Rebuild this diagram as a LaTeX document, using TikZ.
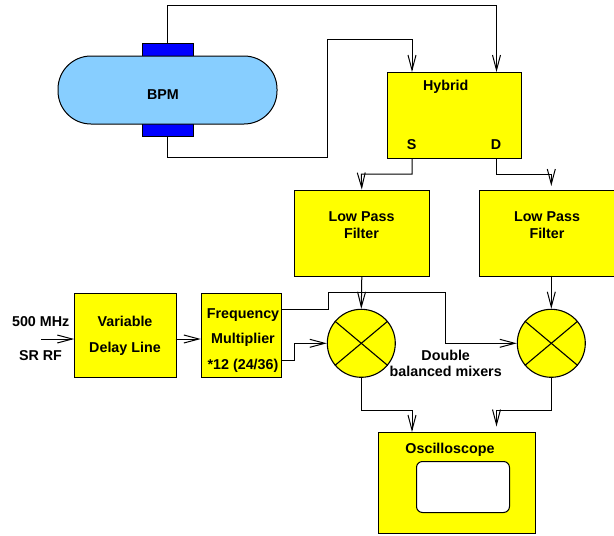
\documentclass[tikz,border=0pt]{standalone}
\usepackage{fontspec}
\setmainfont{Liberation Sans}
\usetikzlibrary{arrows.meta}
\definecolor{pipeblue}{RGB}{135,206,255}
\definecolor{boxyellow}{RGB}{255,255,0}
\definecolor{plateblue}{RGB}{0,0,255}

\tikzset{
    box/.style={rectangle, draw, fill=boxyellow, line width=1pt, inner sep=0pt, anchor=north west},
    plate/.style={rectangle, draw, fill=plateblue, line width=1pt, inner sep=0pt, minimum width=51pt, minimum height=13pt},
    mixer/.style={circle, draw, fill=boxyellow, line width=1.1pt, inner sep=0pt, minimum size=68pt},
    txt/.style={anchor=base, inner sep=0pt, font=\bfseries\fontsize{14.3}{16}\selectfont},
    wire/.style={line width=1.1pt},
    sig/.style={line width=1pt, -{Straight Barb[length=15pt, width=8pt, line width=1pt]}}
}

\begin{document}
\begin{tikzpicture}[x=1pt, y=-1pt]
        \useasboundingbox (0,0) rectangle (614,536);

        % Nodes
        \node[plate] (ptop) at (167.5,49.5) {};
        \node[plate] (pbot) at (167.5,130) {};
        \node[rectangle, draw, fill=pipeblue, line width=1pt, rounded corners=33pt, inner sep=0pt, minimum width=219pt, minimum height=68pt] (bpm) at (167.5,90) {};
        \node[box, minimum width=134.5pt, minimum height=86pt] (hybrid) at (386.5,72) {};
        \node[box, minimum width=135pt, minimum height=86pt] (lpfa) at (293.8,189.5) {};
        \node[box, minimum width=140pt, minimum height=86pt] (lpfb) at (479.3,189.5) {};
        \node[box, minimum width=101.5pt, minimum height=84.5pt] (delay) at (74.2,292.5) {};
        \node[box, minimum width=80.5pt, minimum height=84.5pt] (freq) at (200.8,292.5) {};
        \node[mixer] (mixa) at (361.3,343.3) {};
        \node[mixer] (mixb) at (551.3,343.3) {};
        \node[box, minimum width=156.5pt, minimum height=101pt] (scope) at (378,432) {};
        \node[rectangle, draw, fill=white, line width=1pt, rounded corners=6pt, inner sep=0pt, minimum width=93pt, minimum height=51pt, anchor=north west] (screen) at (416,461) {};

        % Labels
        \node[txt] (bpmtxt) at (163,99) {BPM};
        \node[txt] (hybtxt) at (445.7,90) {Hybrid};
        \node[txt] (stxt) at (411.7,149) {S};
        \node[txt] (dtxt) at (496,149) {D};
        \node[txt] (lpfaone) at (361.5,221) {Low Pass};
        \node[txt] (lpfatwo) at (361.5,238) {Filter};
        \node[txt] (lpfbone) at (547,221) {Low Pass};
        \node[txt] (lpfbtwo) at (547,238) {Filter};
        \node[txt] (rfone) at (40.7,326) {500 MHz};
        \node[txt] (rftwo) at (40.5,360) {SR RF};
        \node[txt] (delayone) at (125,326) {Variable};
        \node[txt] (delaytwo) at (125,352) {Delay Line};
        \node[txt] (freqone) at (243,318) {Frequency};
        \node[txt] (freqtwo) at (243,343) {Multiplier};
        \node[txt] (freqthree) at (243,369) {*12 (24/36)};
        \node[txt] (mixone) at (445.7,360) {Double};
        \node[txt] (mixtwo) at (445.7,376.7) {balanced mixers};
        \node[txt] (scopetxt) at (450,453) {Oscilloscope};

        % Free ends and bends
        \coordinate (hybs) at (412,72);
        \coordinate (hybd) at (496.5,72);
        \coordinate (outs) at (412,158);
        \coordinate (outd) at (496.5,158);
        \coordinate (rfin) at (41,339);
        \coordinate (delayin) at (74.2,339);
        \coordinate (delayout) at (175.7,339);
        \coordinate (freqin) at (200.8,339);
        \coordinate (scopea) at (412,432);
        \coordinate (scopeb) at (496.5,426.5);
        \coordinate (lpfbin) at (551.3,186);
        \coordinate (lpfbout) at (551.3,275.5);
        \coordinate (freqhi) at (281.3,309.5);
        \coordinate (freqlo) at (281.3,360);

        % Edges
        \draw[sig] (ptop.north) -- (167.5,5.5) -- (496.5,5.5) -- (hybd);
        \draw[sig] (pbot.south) -- (167.5,157) -- (327.5,157) -- (327.5,39.5) -- (412,39.5) -- (hybs);
        \draw[sig] (outs) -- (412,174) -- (361.3,174) -- (lpfa.north);
        \draw[sig] (outd) -- (496.5,174) -- (551.3,174) -- (lpfbin);
        \draw[sig] (lpfa.south) -- (mixa.north);
        \draw[sig] (lpfbout) -- (mixb.north);
        \draw[sig] (rfin) -- (delayin);
        \draw[sig] (delayout) -- (freqin);
        \draw[sig] (freqhi) -- (328,309.5) -- (328,292.5) -- (445.7,292.5) -- (445.7,343.3) -- (mixb.west);
        \draw[sig] (freqlo) -- (294,360) -- (294,343.3) -- (mixa.west);
        \draw[sig] (mixa.south) -- (361.3,410.5) -- (412,410.5) -- (scopea);
        \draw[sig] (mixb.south) -- (551.3,410.5) -- (496.5,410.5) -- (scopeb);

        % Crosses in the mixers
        \draw[wire] (mixa.140) -- (mixa.-40);
        \draw[wire] (mixa.40) -- (mixa.-140);
        \draw[wire] (mixb.140) -- (mixb.-40);
        \draw[wire] (mixb.40) -- (mixb.-140);

    \end{tikzpicture}
\end{document}
